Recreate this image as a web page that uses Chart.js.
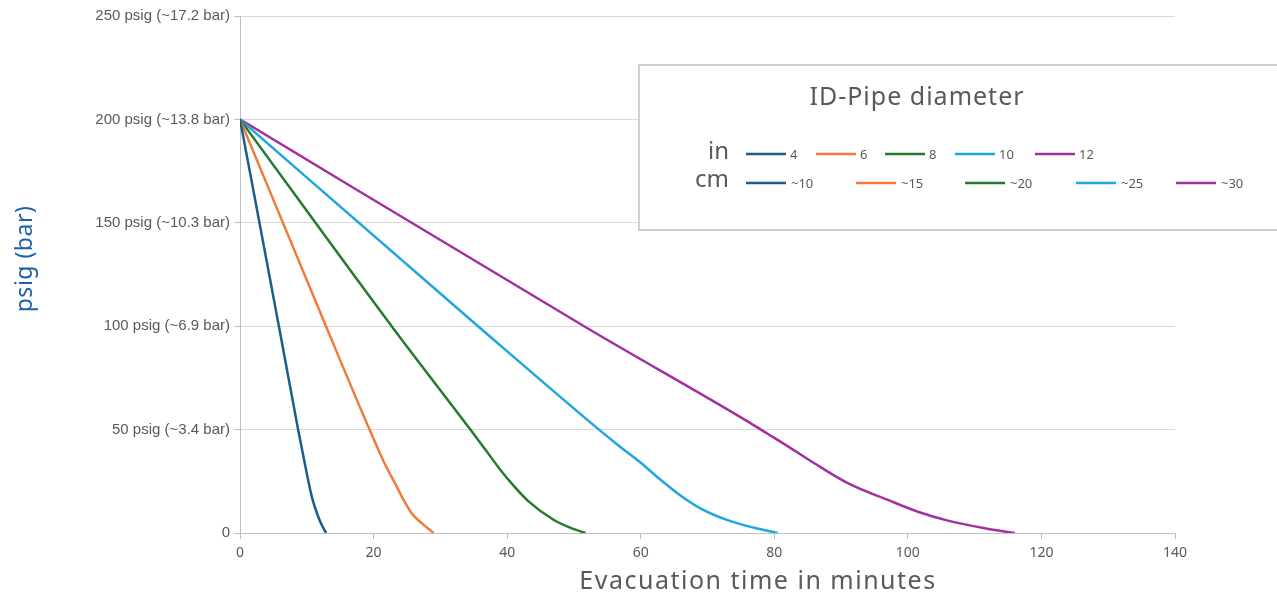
<!DOCTYPE html>
<html>
<head>
<meta charset="utf-8">
<script src="https://cdn.jsdelivr.net/npm/chart.js@4/dist/chart.umd.min.js"></script>
<style>
  body { margin: 0; background: #fff; }
  #contenedor { width: 1277px; height: 594px; }
</style>
</head>
<body>
<div id="contenedor"><canvas id="myChart" width="1277" height="594"></canvas></div>
<script>
/* datos: tiempo (min) y presion (psig) */
const tiempo4 = [0, 6, 8.7, 9.8, 10.8, 11.7, 12.3, 12.9];
const presion4 = [200, 97, 50, 32, 17, 8, 3.5, 0];

const tiempo6 = [0, 13, 19.4, 21.6, 23.3, 24.5, 25.7, 27.2, 29];
const presion6 = [200, 99, 50, 34, 23.5, 16, 9.5, 4.8, 0];

const tiempo8 = [0, 23.1, 34.5, 36.7, 39, 40.8, 43.25, 47, 49.5, 51.75];
const presion8 = [200, 98.3, 50, 40.5, 30.5, 23.5, 15.2, 6.3, 2.5, 0];

const tiempo10 = [0, 36.25, 53.75, 57, 60, 62.5, 66, 69, 73, 77, 80.5];
const presion10 = [200, 98.3, 50, 41.5, 34, 27, 18, 11.8, 6.2, 2.5, 0];

const tiempo12 = [0, 52.4, 76, 79, 82, 86, 91, 97, 101.5, 106, 111.5, 116];
const presion12 = [200, 98.3, 54, 48, 42, 33.7, 24.1, 16, 10.3, 6, 2.3, 0];

// etiquetas
const etiquetasPulgadas = ["4", "6", "8", "10", "12"];
const etiquetasCm = ["~10", "~15", "~20", "~25", "~30"];
const colores = ["#1b5e8c", "#f07c3a", "#247a2f", "#1fa6df", "#a2309e"];
const etiquetasEjeY = ["0", "50 psig (~3.4 bar)", "100 psig (~6.9 bar)", "150 psig (~10.3 bar)", "200 psig (~13.8 bar)", "250 psig (~17.2 bar)"];

const gris = "#595959";

// arma los puntos {x, y} de una serie
function armarPuntos(tiempos, presiones) {
    return tiempos.map((t, i) => {
        return { x: t, y: presiones[i] };
    });
}

const series = [
    armarPuntos(tiempo4, presion4),
    armarPuntos(tiempo6, presion6),
    armarPuntos(tiempo8, presion8),
    armarPuntos(tiempo10, presion10),
    armarPuntos(tiempo12, presion12)
];

const datasets = series.map((data, i) => {
    return {
        label: etiquetasPulgadas[i],
        data,
        borderColor: colores[i],
        backgroundColor: colores[i],
        borderWidth: 2.5,
        pointRadius: 0,
        cubicInterpolationMode: "monotone",
        fill: false
    };
});

// leyenda y titulos de ejes dibujados a mano
const leyendaPlugin = {
    id: "leyenda",
    afterDraw(chart) {
        const ctx = chart.ctx;
        ctx.save();

        // titulo eje x
        ctx.fillStyle = gris;
        ctx.font = "25px 'Noto Sans'";
        ctx.letterSpacing = "1.5px";
        ctx.textAlign = "center";
        ctx.textBaseline = "middle";
        ctx.fillText("Evacuation time in minutes", 758, 582);

        // titulo eje y
        ctx.save();
        ctx.translate(25, 259);
        ctx.rotate(-Math.PI / 2);
        ctx.fillStyle = "#1f5fa8";
        ctx.font = "23px 'Noto Sans'";
        ctx.letterSpacing = "0.5px";
        ctx.fillText("psig (bar)", 0, 0);
        ctx.restore();

        // caja
        ctx.fillStyle = "#fff";
        ctx.strokeStyle = "#d0d0d0";
        ctx.lineWidth = 2;
        ctx.fillRect(639, 65, 660, 165);
        ctx.strokeRect(639, 65, 660, 165);

        ctx.fillStyle = gris;
        ctx.font = "25px 'Noto Sans'";
        ctx.letterSpacing = "1px";
        ctx.textAlign = "center";
        ctx.fillText("ID-Pipe diameter", 917, 98);

        ctx.font = "24px 'Noto Sans'";
        ctx.letterSpacing = "0px";
        ctx.textAlign = "right";
        ctx.fillText("in", 729, 152);
        ctx.fillText("cm", 729, 180);

        const inicioFila1 = [746, 816, 885, 955, 1035];
        const inicioFila2 = [746, 856, 965, 1076, 1176];
        ctx.font = "13px 'Noto Sans'";
        ctx.textAlign = "left";
        ctx.lineWidth = 2.5;
        chart.data.datasets.forEach((ds, i) => {
            ctx.strokeStyle = ds.borderColor;
            ctx.beginPath();
            ctx.moveTo(inicioFila1[i], 154);
            ctx.lineTo(inicioFila1[i] + 40, 154);
            ctx.moveTo(inicioFila2[i], 183);
            ctx.lineTo(inicioFila2[i] + 40, 183);
            ctx.stroke();
            ctx.fillText(etiquetasPulgadas[i], inicioFila1[i] + 44, 155);
            ctx.fillText(etiquetasCm[i], inicioFila2[i] + 45, 184);
        });
        ctx.restore();
    }
};

function cargarGrafico() {
    const chartDOM = document.getElementById("myChart");
    const config = {
        type: "line",
        data: { datasets },
        options: {
            responsive: false,
            animation: false,
            layout: { padding: { top: 16, right: 102, left: 0, bottom: 0 } },
            plugins: {
                legend: { display: false },
                tooltip: { enabled: false }
            },
            scales: {
                x: {
                    type: "linear",
                    min: 0,
                    max: 140,
                    afterFit: (scale) => { scale.height = 61; },
                    ticks: {
                        stepSize: 20,
                        padding: 6,
                        color: gris,
                        font: { family: "'Noto Sans'", size: 14 }
                    },
                    grid: {
                        drawOnChartArea: false,
                        tickLength: 6,
                        tickColor: "#bfbfbf"
                    },
                    border: { color: "#bfbfbf" }
                },
                y: {
                    min: 0,
                    max: 250,
                    afterFit: (scale) => { scale.width = 240; },
                    ticks: {
                        stepSize: 50,
                        padding: 4,
                        color: gris,
                        font: { family: "'Liberation Sans'", size: 15 },
                        callback: (valor) => etiquetasEjeY[valor / 50]
                    },
                    grid: {
                        color: "#d9d9d9",
                        tickLength: 6,
                        tickColor: "#bfbfbf"
                    },
                    border: { color: "#bfbfbf" }
                }
            }
        },
        plugins: [leyendaPlugin]
    };
    new Chart(chartDOM, config);
}

cargarGrafico();
</script>
</body>
</html>
